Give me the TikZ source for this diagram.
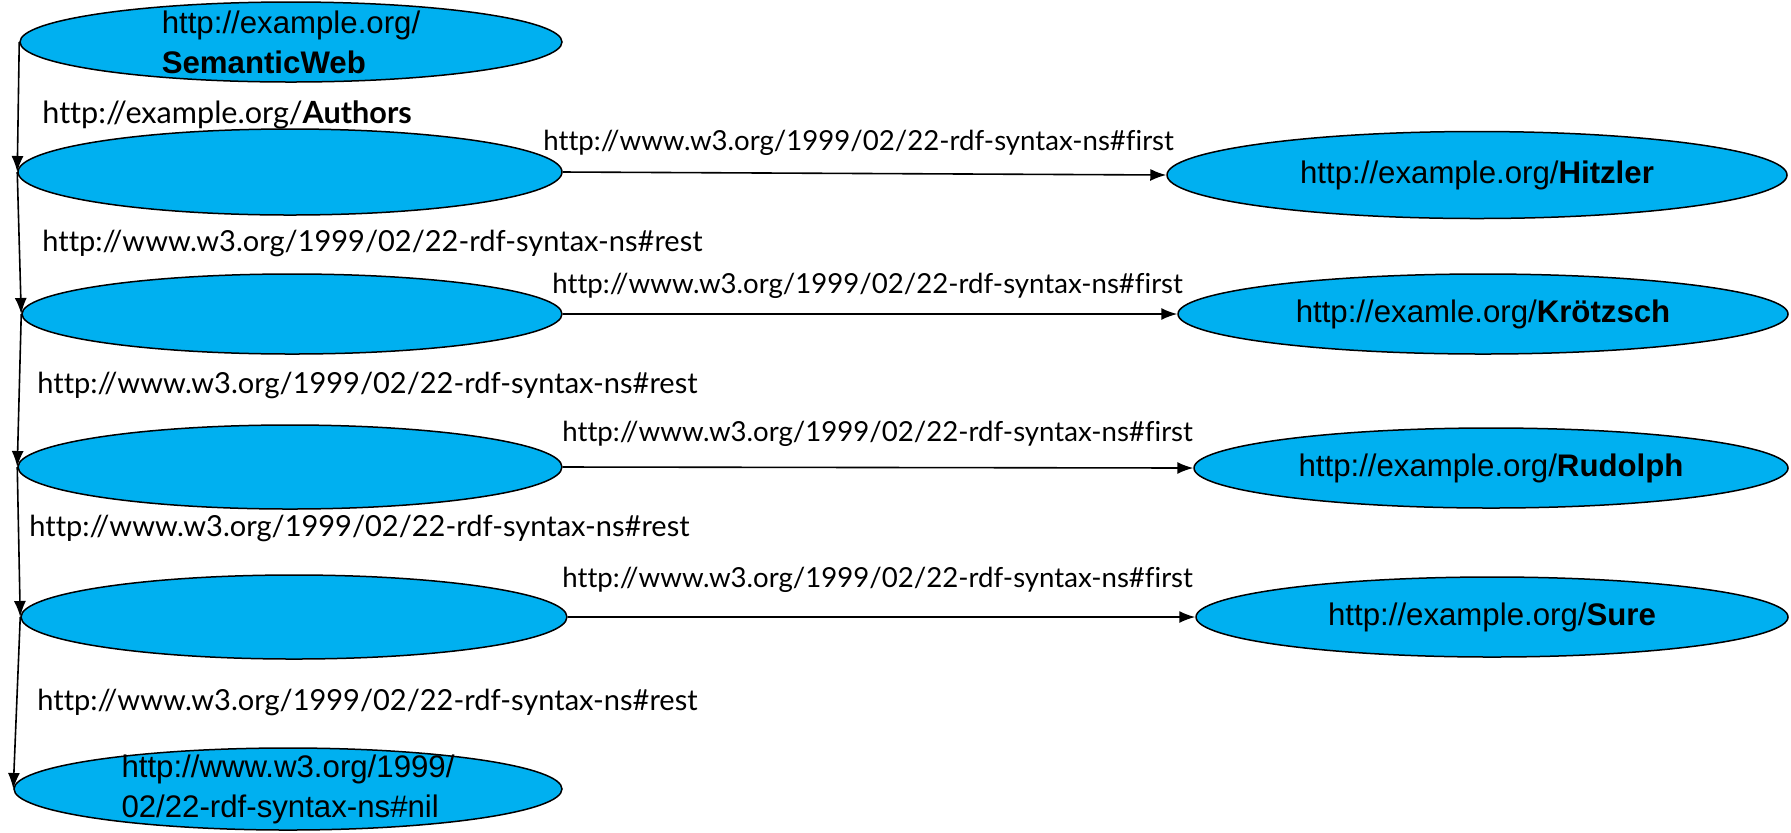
\documentclass[tikz,border=0pt]{standalone}
\usepackage{fontspec}
\setmainfont{Liberation Sans}
\newfontfamily\labfont[Ligatures={NoCommon}]{Lato}
\usetikzlibrary{shapes.geometric,arrows.meta}
\definecolor{nodeblue}{RGB}{0,176,240}
\begin{document}
\begin{tikzpicture}[x=0.5pt,y=-0.5pt,
  res/.style={ellipse,draw=black,line width=0.75pt,fill=nodeblue,inner sep=0pt},
  rtext/.style={font=\fontsize{15.6}{20}\selectfont,align=left,inner sep=0pt},
  lab/.style={font=\labfont\fontsize{14.5}{18}\selectfont,anchor=west,inner sep=0pt},
  flab/.style={lab,font=\labfont\fontsize{13.8}{18}\selectfont},
  alab/.style={lab,font=\labfont\fontsize{15.3}{18}\selectfont},
  arr/.style={line width=0.8pt,-{Latex[length=8pt,width=6pt]}}]
\useasboundingbox (0,0) rectangle (1791,832);
% left column
\node[res,minimum width=271pt,minimum height=40pt] (E0) at (291,42) {};
\node[res,minimum width=272pt,minimum height=43pt] (E1) at (290,172) {};
\node[res,minimum width=270pt,minimum height=40pt] (E2) at (292,314) {};
\node[res,minimum width=272pt,minimum height=42pt] (E3) at (290,467) {};
\node[res,minimum width=273pt,minimum height=42pt] (E4) at (294,617) {};
\node[res,minimum width=274pt,minimum height=41pt] (E5) at (288,789) {};
% right column
\node[res,minimum width=310pt,minimum height=43.5pt] (H) at (1477,175) {};
\node[res,minimum width=305pt,minimum height=40pt] (K) at (1483,314) {};
\node[res,minimum width=297pt,minimum height=40pt] (R) at (1491,468) {};
\node[res,minimum width=296pt,minimum height=40pt] (S) at (1492,617) {};
% texts in ellipses
\node[rtext] (t0) at (E0) {http://example.org/\\\textbf{SemanticWeb}};
\node[rtext] (t5) at (E5) {http://www.w3.org/1999/\\02/22-rdf-syntax-ns\#nil};
\node[rtext] (tH) at (H) {http://example.org/\textbf{Hitzler}};
\node[rtext] (tK) at (K) {http://examle.org/\textbf{Krötzsch}};
\node[rtext] (tR) at (R) {http://example.org/\textbf{Rudolph}};
\node[rtext] (tS) at (S) {http://example.org/\textbf{Sure}};
% connectors
\draw[arr] (E0.west) -- (E1.west);
\draw[arr] (E1.west) -- (E2.west);
\draw[arr] (E2.west) -- (E3.west);
\draw[arr] (E3.west) -- (E4.west);
\draw[arr] (E4.west) -- (E5.west);
\draw[arr] (E1.east) -- (H.west);
\draw[arr] (E2.east) -- (K.west);
\draw[arr] (E3.east) -- (R.west);
\draw[arr] (E4.east) -- (S.west);
% labels
\node[alab] (l0) at (42,115) {http://example.org/\textbf{Authors}};
\node[flab] (f1) at (543,143) {http://www.w3.org/1999/02/22-rdf-syntax-ns\#first};
\node[lab] (r1) at (42,243) {http://www.w3.org/1999/02/22-rdf-syntax-ns\#rest};
\node[flab] (f2) at (552,286) {http://www.w3.org/1999/02/22-rdf-syntax-ns\#first};
\node[lab] (r2) at (37,385) {http://www.w3.org/1999/02/22-rdf-syntax-ns\#rest};
\node[flab] (f3) at (562,434) {http://www.w3.org/1999/02/22-rdf-syntax-ns\#first};
\node[lab] (r3) at (29,528) {http://www.w3.org/1999/02/22-rdf-syntax-ns\#rest};
\node[flab] (f4) at (562,580) {http://www.w3.org/1999/02/22-rdf-syntax-ns\#first};
\node[lab] (r4) at (37,702) {http://www.w3.org/1999/02/22-rdf-syntax-ns\#rest};
\end{tikzpicture}
\end{document}
